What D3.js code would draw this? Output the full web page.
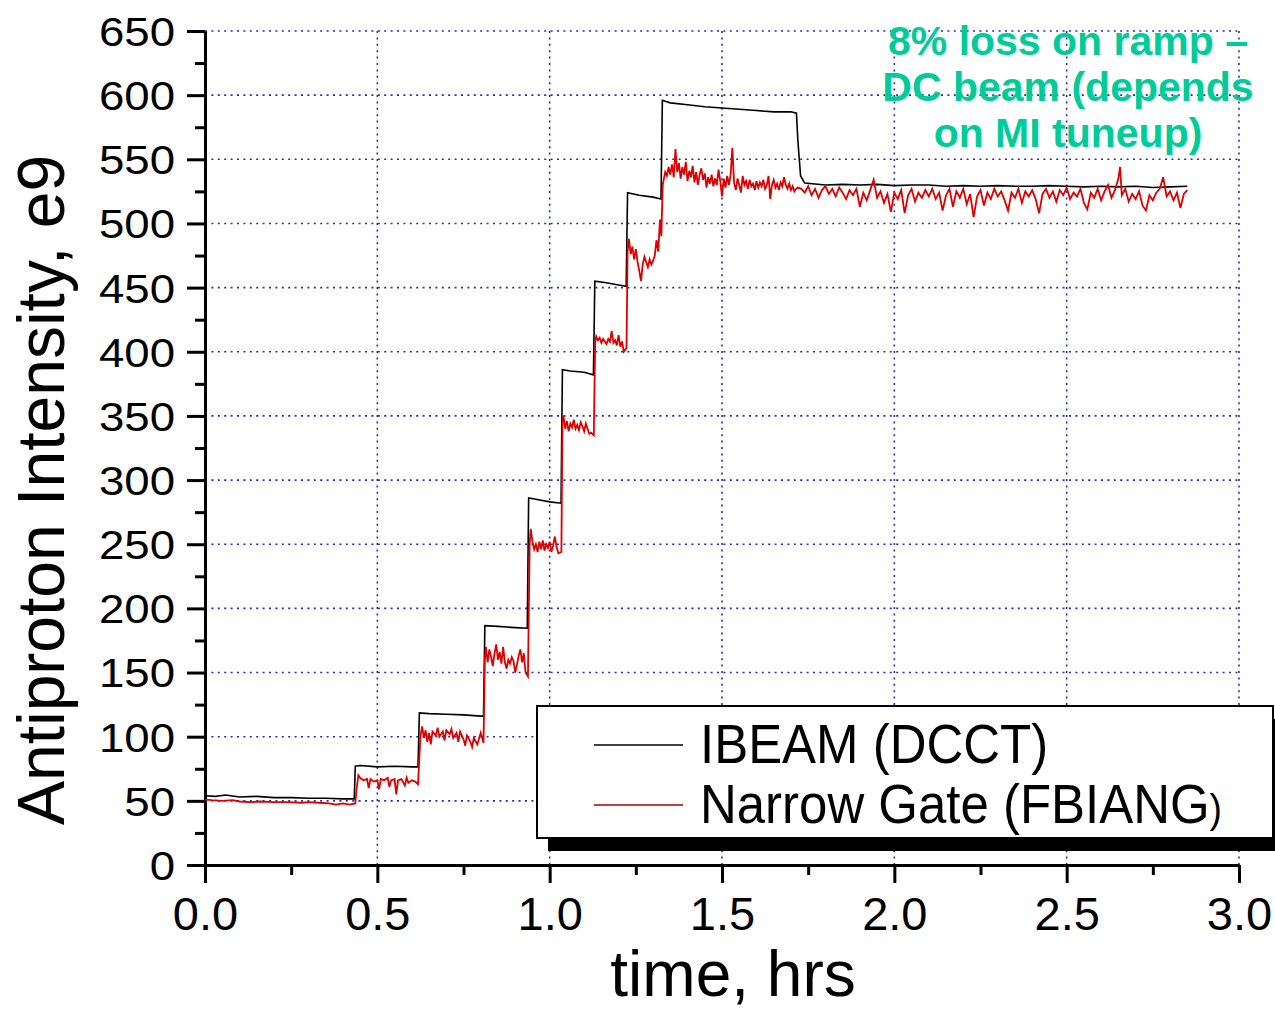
<!DOCTYPE html>
<html>
<head>
<meta charset="utf-8">
<script src="https://cdn.jsdelivr.net/npm/d3@7"></script>
<style>
  body { margin: 0; background: #fff; }
  svg text { font-family: "Liberation Sans", Arial, sans-serif; }
</style>
</head>
<body>
<div id="container"></div>
<script>
var w = 1275
var h = 1012

// axis ticks
var xMajor = [0, 0.5, 1.0, 1.5, 2.0, 2.5, 3.0]
var xMinor = [0.25, 0.75, 1.25, 1.75, 2.25, 2.75]
var yMajor = [0, 50, 100, 150, 200, 250, 300, 350, 400, 450, 500, 550, 600, 650]
var yMinor = [25, 75, 125, 175, 225, 275, 325, 375, 425, 475, 525, 575, 625]

// IBEAM (DCCT) - [time hrs, intensity e9]
var ibeam = [
  [0.0, 54], [0.03, 53.5], [0.06, 54.5], [0.1, 53], [0.15, 53.5], [0.2, 52.5], [0.25, 52.5],
  [0.3, 52], [0.35, 52], [0.4, 51.5], [0.433, 51.5],
  [0.436, 77], [0.45, 77.5], [0.5, 76.5], [0.55, 77], [0.6, 76.5], [0.618, 76.5],
  [0.622, 118.5], [0.65, 118], [0.7, 117.5], [0.75, 117], [0.8, 116], [0.808, 116],
  [0.812, 186.5], [0.85, 186], [0.9, 185], [0.935, 184.5],
  [0.939, 286], [0.96, 285], [1.0, 283], [1.033, 282],
  [1.037, 386], [1.06, 385], [1.1, 384], [1.127, 382],
  [1.131, 455], [1.16, 454], [1.2, 452], [1.222, 451],
  [1.226, 524], [1.26, 522], [1.3, 520.5], [1.323, 519],
  [1.327, 596], [1.35, 594], [1.4, 592.5], [1.45, 591], [1.5, 590], [1.55, 589],
  [1.6, 588], [1.65, 587], [1.7, 587], [1.716, 586],
  [1.72, 565], [1.728, 537], [1.74, 531.5], [1.8, 530], [1.85, 530.5], [1.9, 530],
  [1.95, 530.5], [2.0, 529.5], [2.05, 530], [2.1, 530], [2.15, 529], [2.2, 529.5],
  [2.25, 529], [2.3, 529.5], [2.35, 529], [2.4, 529], [2.45, 529.5], [2.5, 529],
  [2.55, 528.5], [2.6, 529], [2.65, 528.5], [2.7, 529], [2.75, 528], [2.8, 528.5], [2.85, 529]
]

// Narrow Gate (FBIANG) - [time hrs, intensity e9]
var fbiang = [
  [0.0, 51], [0.02, 50.5], [0.05, 50], [0.08, 50.5], [0.1, 49.5], [0.13, 49], [0.16, 49.5],
  [0.2, 49], [0.24, 49], [0.28, 48.5], [0.3, 49], [0.33, 48.5], [0.36, 48], [0.38, 47],
  [0.4, 48], [0.42, 47], [0.436, 48],
  [0.44, 60], [0.445, 70], [0.45, 68], [0.46, 66], [0.47, 67], [0.475, 60], [0.48, 67],
  [0.49, 65], [0.5, 66], [0.505, 59], [0.51, 67], [0.52, 66], [0.53, 68], [0.535, 61],
  [0.54, 66], [0.55, 67], [0.555, 55], [0.56, 66], [0.57, 67], [0.58, 62], [0.585, 68],
  [0.59, 64], [0.6, 66], [0.61, 65], [0.618, 63],
  [0.625, 100], [0.63, 108], [0.635, 99], [0.64, 105], [0.645, 96], [0.65, 103], [0.655, 94],
  [0.66, 104], [0.67, 101], [0.675, 107], [0.68, 100], [0.69, 104], [0.695, 97], [0.7, 105],
  [0.71, 102], [0.715, 106], [0.72, 99], [0.73, 103], [0.735, 96], [0.74, 104], [0.75, 98],
  [0.755, 93], [0.76, 101], [0.77, 96], [0.775, 92], [0.78, 99], [0.79, 94], [0.8, 103], [0.808, 95],
  [0.812, 160], [0.815, 170], [0.82, 158], [0.825, 168], [0.83, 162], [0.835, 155], [0.84, 165],
  [0.845, 172], [0.85, 160], [0.855, 166], [0.86, 157], [0.865, 170], [0.87, 158], [0.875, 153],
  [0.88, 160], [0.885, 157], [0.89, 162], [0.895, 159], [0.9, 150], [0.905, 156], [0.91, 163],
  [0.915, 168], [0.92, 158], [0.925, 165], [0.93, 150], [0.937, 147],
  [0.942, 250], [0.945, 262], [0.95, 252], [0.955, 246], [0.96, 250], [0.965, 244], [0.97, 252],
  [0.975, 246], [0.98, 253], [0.985, 245], [0.99, 250], [0.995, 247], [1.0, 252], [1.005, 244],
  [1.01, 249], [1.015, 256], [1.02, 248], [1.025, 243], [1.034, 244],
  [1.037, 345], [1.04, 350], [1.045, 340], [1.05, 346], [1.055, 338], [1.06, 344], [1.065, 341],
  [1.07, 347], [1.075, 340], [1.08, 343], [1.085, 339], [1.09, 345], [1.095, 342], [1.1, 338],
  [1.105, 344], [1.11, 340], [1.115, 336], [1.12, 337], [1.128, 335],
  [1.132, 407], [1.135, 412], [1.14, 409], [1.145, 411], [1.15, 407], [1.155, 410], [1.16, 408],
  [1.165, 406], [1.17, 410], [1.175, 408], [1.18, 416], [1.185, 407], [1.19, 409], [1.195, 405],
  [1.2, 413], [1.205, 404], [1.21, 408], [1.215, 400], [1.223, 403],
  [1.226, 478], [1.23, 488], [1.235, 476], [1.24, 482], [1.245, 472], [1.25, 480], [1.255, 470],
  [1.26, 463], [1.265, 455], [1.27, 468], [1.275, 474], [1.28, 470], [1.285, 466], [1.29, 472],
  [1.295, 468], [1.3, 471], [1.305, 475], [1.31, 487], [1.315, 478], [1.32, 503], [1.324, 490],
  [1.328, 530], [1.335, 540], [1.34, 537], [1.345, 544], [1.35, 538], [1.355, 546], [1.36, 536],
  [1.365, 558], [1.37, 540], [1.375, 547], [1.38, 535], [1.385, 544], [1.39, 538], [1.395, 548],
  [1.4, 533], [1.405, 541], [1.41, 536], [1.415, 545], [1.42, 532], [1.425, 540], [1.43, 530],
  [1.435, 538], [1.44, 543], [1.445, 534], [1.45, 539], [1.455, 528], [1.46, 536], [1.465, 531],
  [1.47, 538], [1.475, 529], [1.48, 535], [1.485, 530], [1.49, 542], [1.495, 533], [1.5, 521],
  [1.505, 535], [1.51, 528], [1.515, 537], [1.52, 530], [1.525, 538], [1.53, 559], [1.535, 532],
  [1.54, 526], [1.545, 535], [1.55, 530], [1.555, 524], [1.56, 537], [1.565, 530], [1.57, 533],
  [1.575, 527], [1.58, 534], [1.585, 529], [1.59, 531], [1.595, 526], [1.6, 533], [1.605, 528],
  [1.61, 532], [1.615, 529], [1.62, 534], [1.625, 527], [1.63, 530], [1.635, 537], [1.64, 519],
  [1.645, 530], [1.65, 534], [1.655, 528], [1.66, 531], [1.665, 526], [1.67, 532], [1.675, 529],
  [1.68, 536], [1.685, 530], [1.69, 527], [1.695, 531], [1.7, 526], [1.705, 529], [1.71, 525],
  [1.715, 527], [1.72, 528], [1.73, 527], [1.74, 524], [1.75, 529], [1.76, 522], [1.77, 527],
  [1.78, 520], [1.79, 526], [1.8, 529], [1.81, 523], [1.82, 527], [1.83, 521], [1.84, 528],
  [1.85, 524], [1.86, 519], [1.87, 526], [1.88, 522], [1.89, 527], [1.9, 513], [1.91, 524],
  [1.92, 518], [1.93, 526], [1.94, 534], [1.95, 520], [1.96, 525], [1.97, 516], [1.98, 523],
  [1.99, 509], [2.0, 524], [2.01, 519], [2.02, 526], [2.03, 508], [2.04, 522], [2.05, 527],
  [2.06, 517], [2.07, 524], [2.08, 520], [2.09, 526], [2.1, 521], [2.11, 527], [2.12, 519],
  [2.13, 524], [2.14, 510], [2.15, 522], [2.16, 527], [2.17, 513], [2.18, 525], [2.19, 520],
  [2.2, 527], [2.21, 515], [2.22, 523], [2.23, 505], [2.24, 521], [2.25, 526], [2.26, 514],
  [2.27, 524], [2.28, 519], [2.29, 527], [2.3, 521], [2.31, 525], [2.32, 518], [2.33, 510],
  [2.34, 524], [2.35, 520], [2.36, 527], [2.37, 516], [2.38, 525], [2.39, 521], [2.4, 526],
  [2.41, 519], [2.42, 508], [2.43, 523], [2.44, 527], [2.45, 520], [2.46, 525], [2.47, 517],
  [2.48, 526], [2.49, 522], [2.5, 528], [2.51, 519], [2.52, 524], [2.53, 521], [2.54, 527],
  [2.55, 516], [2.56, 511], [2.57, 524], [2.58, 520], [2.59, 527], [2.6, 518], [2.61, 525],
  [2.62, 530], [2.63, 520], [2.64, 526], [2.65, 535], [2.655, 544], [2.66, 522], [2.67, 527],
  [2.68, 517], [2.69, 523], [2.7, 519], [2.71, 525], [2.72, 514], [2.73, 510], [2.74, 522],
  [2.75, 518], [2.76, 524], [2.77, 527], [2.78, 536], [2.79, 521], [2.8, 525], [2.81, 518],
  [2.82, 524], [2.83, 512], [2.84, 523], [2.85, 526]
]

var legendLabels = ["IBEAM (DCCT)", "Narrow Gate (FBIANG"]
var noteLines = ["8% loss on ramp \u2013", "DC beam (depends", "on MI tuneup)"]

var svg = d3.select("#container").append("svg")
    .attr("width", w)
    .attr("height", h)
    .style("background-color", "#fff")

var x = d3.scaleLinear().domain([0, 3]).range([205, 1239])
var y = d3.scaleLinear().domain([0, 650]).range([865, 31])

// grid
var grid = svg.append("g").attr("class", "grid")
    .attr("stroke", "#2b2ba8")
    .attr("stroke-width", 1.6)
    .attr("stroke-dasharray", "2,4.4")

grid.selectAll(".gx")
    .data(xMajor.slice(1))
    .enter()
    .append("line")
    .attr("x1", d => x(d)).attr("x2", d => x(d))
    .attr("y1", y(650)).attr("y2", y(0))

grid.selectAll(".gy")
    .data(yMajor.slice(1))
    .enter()
    .append("line")
    .attr("x1", x(0)).attr("x2", x(3))
    .attr("y1", d => y(d)).attr("y2", d => y(d))

// axes
var xAxis = svg.append("g")
    .attr("transform", "translate(0," + y(0) + ")")
    .call(d3.axisBottom(x).tickValues(xMajor).tickSize(18).tickSizeOuter(0).tickFormat(d3.format(".1f")))
svg.append("g")
    .attr("transform", "translate(0," + y(0) + ")")
    .call(d3.axisBottom(x).tickValues(xMinor).tickSize(10).tickSizeOuter(0).tickFormat(""))
    .select(".domain").remove()

var yAxis = svg.append("g")
    .attr("transform", "translate(" + x(0) + ",0)")
    .call(d3.axisLeft(y).tickValues(yMajor).tickSize(18).tickSizeOuter(0))
svg.append("g")
    .attr("transform", "translate(" + x(0) + ",0)")
    .call(d3.axisLeft(y).tickValues(yMinor).tickSize(10).tickSizeOuter(0).tickFormat(""))
    .select(".domain").remove()

svg.selectAll(".domain, .tick line")
    .attr("stroke", "#000")
    .attr("stroke-width", 3)

xAxis.selectAll("text")
    .attr("font-size", 47)
    .attr("fill", "#000")
    .attr("y", 32)
    .attr("dy", "0.71em")

yAxis.selectAll("text")
    .attr("font-size", 40)
    .attr("fill", "#000")
    .attr("x", -30 / 1.14)
    .attr("dy", "0.36em")
    .attr("transform", "scale(1.14,1)")

// axis titles
svg.append("text")
    .attr("x", 733)
    .attr("y", 996)
    .attr("text-anchor", "middle")
    .attr("font-size", 64)
    .text("time, hrs")

svg.append("text")
    .attr("transform", "translate(64,490) rotate(-90)")
    .attr("text-anchor", "middle")
    .attr("font-size", 66)
    .text("Antiproton Intensity, e9")

// series
var line = d3.line().x(d => x(d[0])).y(d => y(d[1]))

svg.append("path")
    .datum(ibeam)
    .attr("fill", "none")
    .attr("stroke", "#000")
    .attr("stroke-width", 1.6)
    .attr("d", line)

svg.append("path")
    .datum(fbiang)
    .attr("fill", "none")
    .attr("stroke", "#dd0000")
    .attr("stroke-width", 1.8)
    .attr("d", line)

// legend
var lg = svg.append("g")
lg.append("rect")
    .attr("x", 548).attr("y", 719)
    .attr("width", 736).attr("height", 132)
    .attr("fill", "#000")
lg.append("rect")
    .attr("x", 537).attr("y", 706)
    .attr("width", 736).attr("height", 132)
    .attr("fill", "#fff")
    .attr("stroke", "#000")
    .attr("stroke-width", 2)

var legendColors = ["#000", "#b00000"]
legendLabels.forEach(function (label, i) {
    var ly = 745 + i * 60
    lg.append("line")
        .attr("x1", 594).attr("x2", 683)
        .attr("y1", ly).attr("y2", ly)
        .attr("stroke", legendColors[i])
        .attr("stroke-width", 1.6)
    var t = lg.append("text")
        .attr("x", 700 / 0.98)
        .attr("y", ly + 18)
        .attr("font-size", 52)
        .attr("transform", "translate(0," + (ly + 18) * -0.08 + ") scale(0.98,1.08)")
        .text(label)
    if (i == 1) {
        t.append("tspan").attr("font-size", 38).text(")")
    }
})

// annotation
svg.append("g").selectAll("text")
    .data(noteLines)
    .enter()
    .append("text")
    .attr("x", 1068)
    .attr("y", (d, i) => 55 + i * 46)
    .attr("text-anchor", "middle")
    .attr("font-size", 41)
    .attr("font-weight", "bold")
    .attr("fill", "#00cc99")
    .text(d => d)
</script>
</body>
</html>
